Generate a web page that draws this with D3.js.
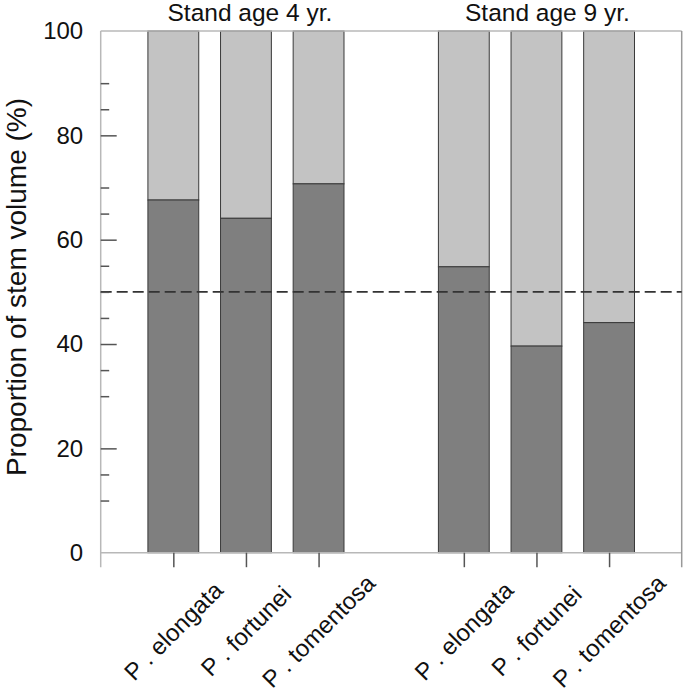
<!DOCTYPE html>
<html>
<head>
<meta charset="utf-8">
<script src="https://cdn.jsdelivr.net/npm/d3@7"></script>
<style>
  html, body { margin: 0; padding: 0; background: #fff; }
  svg { display: block; font-family: "Liberation Sans", Arial, sans-serif; }
</style>
</head>
<body>
<svg id="chart" width="685" height="694"></svg>
<script>
// ---- data ----
const groupTitles = ["Stand age 4 yr.", "Stand age 9 yr."];
const species = ["P . elongata", "P . fortunei", "P . tomentosa"];
const lowerAge4 = [67.6, 64.1, 70.7];
const upperAge4 = [32.4, 35.9, 29.3];
const lowerAge9 = [54.8, 39.6, 44.1];
const upperAge9 = [45.2, 60.4, 55.9];
const yMajorTicks = [0, 20, 40, 60, 80, 100];
const yMinorTicks = [10, 15, 30, 35, 45, 50, 55, 65, 70, 85, 90];
const referenceLine = 50;
const yLabel = "Proportion of stem volume (%)";

// ---- layout ----
const svg = d3.select("#chart");
const plotL = 100.7, plotR = 681.7, plotT = 31, plotB = 552.7;
const slotsPerGroup = 4;
const x = d3.scaleLinear().domain([0, 8]).range([plotL, plotR]);
const y = d3.scaleLinear().domain([0, 100]).range([plotB, plotT]);
const barW = x(0.7) - x(0);

const lowers = [lowerAge4, lowerAge9];
const uppers = [upperAge4, upperAge9];
const bars = [];
groupTitles.forEach((g, gi) => {
  species.forEach((s, si) => {
    const slot = gi * slotsPerGroup + si + 1;
    bars.push({ slot, name: s, lower: lowers[gi][si], upper: uppers[gi][si] });
  });
});

const darkFill = "#7f7f7f", lightFill = "#c3c3c3", edge = "#3a3a3a", frame = "#b8b8b8";

// bars
const bg = svg.append("g");
bg.selectAll("rect.up").data(bars).join("rect")
  .attr("class", "up")
  .attr("x", d => x(d.slot) - barW / 2)
  .attr("width", barW)
  .attr("y", d => y(d.lower + d.upper))
  .attr("height", d => y(d.lower) - y(d.lower + d.upper))
  .attr("fill", lightFill).attr("stroke", edge).attr("stroke-width", 1);
bg.selectAll("rect.low").data(bars).join("rect")
  .attr("class", "low")
  .attr("x", d => x(d.slot) - barW / 2)
  .attr("width", barW)
  .attr("y", d => y(d.lower))
  .attr("height", d => y(0) - y(d.lower))
  .attr("fill", darkFill).attr("stroke", edge).attr("stroke-width", 1);

// frame
svg.append("line").attr("x1", plotL).attr("x2", plotR).attr("y1", plotT).attr("y2", plotT)
  .attr("stroke", frame).attr("stroke-width", 1.5);
svg.append("line").attr("x1", plotL).attr("x2", plotR).attr("y1", plotB).attr("y2", plotB)
  .attr("stroke", frame).attr("stroke-width", 1.5);
svg.append("line").attr("x1", plotL).attr("x2", plotL).attr("y1", plotT).attr("y2", plotB + 14.5)
  .attr("stroke", frame).attr("stroke-width", 1.5);
svg.append("line").attr("x1", plotR).attr("x2", plotR).attr("y1", plotT).attr("y2", plotB + 14.5)
  .attr("stroke", "#999").attr("stroke-width", 1.5);

// reference line
svg.append("line").attr("x1", plotL).attr("x2", plotR)
  .attr("y1", y(referenceLine)).attr("y2", y(referenceLine))
  .attr("stroke", "#333").attr("stroke-width", 1.6).attr("stroke-dasharray", "11,5");

// y axis: labels
const yLab = svg.append("g").attr("transform", `translate(${plotL},0)`)
  .call(d3.axisLeft(y).tickValues(yMajorTicks).tickSize(0).tickPadding(17.5));
yLab.select(".domain").remove();
yLab.selectAll("text").attr("font-size", 24).attr("fill", "#111")
  .attr("font-family", "'Liberation Sans', Arial, sans-serif");

// inward ticks
const yMaj = svg.append("g").attr("transform", `translate(${plotL},0)`)
  .call(d3.axisRight(y).tickValues(yMajorTicks.filter(v => v > 0 && v < 100)).tickSize(16).tickFormat(""));
yMaj.select(".domain").remove();
yMaj.selectAll("line").attr("stroke", "#555").attr("stroke-width", 1.5);
const yMin = svg.append("g").attr("transform", `translate(${plotL},0)`)
  .call(d3.axisRight(y).tickValues(yMinorTicks).tickSize(8.5).tickFormat(""));
yMin.select(".domain").remove();
yMin.selectAll("line").attr("stroke", "#555").attr("stroke-width", 1.5);

// x axis ticks (downward)
const xAx = svg.append("g").attr("transform", `translate(0,${plotB})`)
  .call(d3.axisBottom(x).tickValues(bars.map(d => d.slot)).tickSize(14.5).tickFormat(""));
xAx.select(".domain").remove();
xAx.selectAll("line").attr("stroke", "#555").attr("stroke-width", 1.5);

// x labels rotated
svg.append("g").selectAll("text").data(bars).join("text")
  .attr("transform", d => `translate(${x(d.slot)},631) rotate(-45)`)
  .attr("text-anchor", "middle").attr("dy", "0.35em")
  .attr("font-size", 24).attr("fill", "#111")
  .text(d => d.name);

// group titles
groupTitles.forEach((t, gi) => {
  const mid = gi * slotsPerGroup + 2;
  svg.append("text")
    .attr("x", x(mid) + 4 + gi * 7).attr("y", 21)
    .attr("text-anchor", "middle").attr("font-size", 24.5).attr("fill", "#111")
    .text(t);
});

// y label
svg.append("text")
  .attr("transform", `translate(25.5,287) rotate(-90)`)
  .attr("text-anchor", "middle").attr("font-size", 28).attr("fill", "#111")
  .text(yLabel);
</script>
</body>
</html>
